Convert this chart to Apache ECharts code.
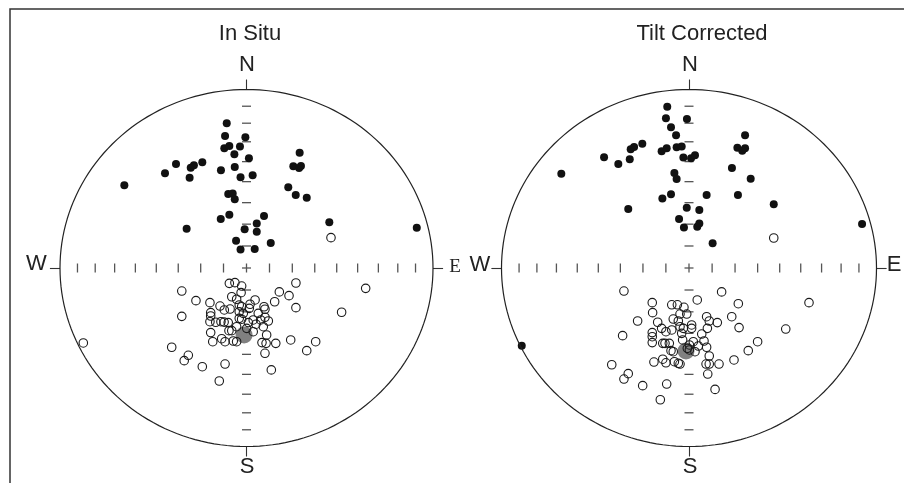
<!DOCTYPE html>
<html>
<head>
<meta charset="utf-8">
<script src="https://cdn.jsdelivr.net/npm/echarts@6/dist/echarts.min.js"></script>
<style>
    html, body { margin: 0; padding: 0; background: #fff; }
    #chart { width: 904px; height: 483px; }
</style>
</head>
<body>
<div id="chart"></div>
<script>
    // panel titles
    var panelTitles = ['In Situ', 'Tilt Corrected'];

    // equal-area tick positions (10 deg steps), in % of net radius
    var netTicks = [-90.63, -81.12, -70.71, -59.59, -48.37, -36.60, -24.56, -12.33, 0,
        12.33, 24.56, 36.60, 48.37, 59.59, 70.71, 81.12, 90.63];

    // In Situ: lower hemisphere (filled), upper hemisphere (open), mean
    var inSituDown = [
        [-10.6, 81.1], [-11.5, 73.9], [-11.9, 67.1], [-9.2, 68.3], [-3.5, 68.1], [-6.5, 63.7],
        [-37.8, 58.3], [-43.7, 53.1], [-29.9, 56.2], [-28.2, 57.5], [-23.7, 59.2], [-30.5, 50.6],
        [-13.7, 54.7], [-6.3, 56.6], [-3.2, 50.8], [-65.5, 46.3], [-9.8, 41.5], [-7.4, 41.8],
        [-6.3, 38.5], [-9.2, 29.9], [-13.8, 27.5], [-32.1, 22.0], [-5.6, 15.3], [-3.2, 10.4],
        [-0.6, 73.2], [1.3, 61.5], [3.3, 51.9], [28.5, 64.6], [25.1, 57.0], [28.2, 56.0],
        [29.2, 57.1], [22.4, 45.2], [26.4, 40.9], [32.3, 39.4], [9.4, 29.1], [5.5, 25.0],
        [-1.0, 21.7], [5.5, 20.3], [13.0, 14.0], [4.4, 10.6], [44.4, 25.6], [91.3, 22.6]
    ];
    var inSituUp = [
        [45.3, 17.0], [-34.7, -12.9], [-27.1, -18.3], [-19.6, -19.4], [-34.7, -27.1], [-87.5, -42.0],
        [-40.1, -44.4], [-31.2, -48.9], [-33.4, -51.9], [-23.7, -55.3], [-11.5, -53.8], [-14.6, -63.3],
        [-9.2, -8.6], [-6.2, -8.2], [-7.9, -16.1], [-5.3, -17.5], [-14.2, -21.3], [-11.9, -23.5],
        [-8.8, -23.0], [-19.2, -25.0], [-19.2, -26.9], [-19.6, -30.1], [-16.5, -30.4], [-13.7, -30.1],
        [-12.0, -30.3], [-9.8, -30.6], [-5.3, -32.9], [-9.4, -35.1], [-7.9, -35.1], [-19.2, -36.2],
        [-13.3, -39.6], [-11.5, -41.3], [-18.1, -41.3], [-7.1, -40.9], [-5.3, -41.3], [-3.9, -20.7],
        [-3.9, -24.5], [-3.9, -28.2], [-2.6, -10.1], [-2.9, -13.8], [26.5, -8.4], [17.6, -13.4],
        [22.8, -15.5], [15.1, -18.9], [4.6, -17.9], [1.9, -20.3], [1.5, -22.6], [9.4, -21.7],
        [9.9, -23.1], [26.5, -22.2], [-2.6, -21.7], [-1.7, -25.4], [6.3, -25.4], [9.9, -27.6],
        [7.6, -29.1], [11.7, -29.7], [3.6, -29.1], [1.0, -30.6], [-2.6, -28.7], [5.1, -31.5],
        [9.0, -32.9], [0.1, -33.8], [3.6, -35.7], [10.8, -37.5], [51.0, -24.8], [63.9, -11.4],
        [23.7, -40.3], [37.1, -41.3], [8.3, -41.8], [10.5, -42.2], [15.7, -42.2], [32.3, -46.3],
        [9.9, -47.8], [13.3, -57.1]
    ];
    var inSituMean = [[-1.3, -37.5]];

    // Tilt Corrected
    var tiltDown = [
        [-11.6, 90.4], [-12.3, 83.9], [-1.1, 83.5], [-9.6, 78.8], [-6.9, 74.3], [-24.9, 69.6],
        [-31.1, 66.5], [-29.3, 67.8], [-14.6, 65.4], [-11.9, 67.1], [-6.6, 67.6], [-3.9, 68.1],
        [-3.0, 61.9], [-45.3, 62.0], [-37.7, 58.3], [-31.6, 60.9], [-68.1, 52.8], [-7.8, 53.2],
        [-6.6, 49.9], [-9.6, 41.3], [-14.2, 39.0], [-1.2, 33.8], [-32.4, 33.1], [-5.3, 27.5],
        [-2.7, 22.7], [1.1, 61.5], [3.2, 63.1], [29.9, 74.3], [25.8, 67.4], [29.9, 67.1],
        [28.4, 65.7], [22.9, 56.0], [32.9, 50.0], [9.4, 40.9], [26.1, 40.9], [45.2, 35.7],
        [5.5, 32.5], [4.4, 23.1], [5.5, 25.0], [12.6, 13.8], [92.3, 24.6], [-89.2, -43.5]
    ];
    var tiltUp = [
        [45.2, 16.8], [-34.7, -12.9], [-19.6, -19.4], [-9.2, -20.6], [-6.2, -20.6], [-2.7, -22.0],
        [-19.4, -25.0], [-4.8, -25.8], [-1.2, -25.8], [-27.4, -29.7], [-16.7, -30.4], [-8.4, -28.6],
        [-5.7, -29.7], [-14.6, -33.8], [-12.3, -35.7], [-9.2, -34.7], [-4.8, -32.9], [-3.0, -33.8],
        [-19.6, -36.2], [-19.6, -38.5], [-19.6, -41.8], [-3.9, -36.6], [-3.4, -40.3], [-35.4, -37.9],
        [-14.0, -42.2], [-12.8, -42.2], [-10.5, -42.2], [-9.6, -46.3], [-8.4, -46.9], [-0.9, -45.0],
        [-41.2, -54.2], [-18.7, -52.7], [-14.0, -51.1], [-12.3, -53.1], [-7.8, -52.5], [-5.7, -53.4],
        [-32.4, -59.2], [-34.7, -62.2], [-24.7, -65.9], [-11.9, -65.0], [-15.3, -73.8],
        [17.4, -13.4], [4.4, -17.9], [26.3, -20.0], [64.0, -19.4], [9.4, -27.3], [10.8, -29.7],
        [15.1, -30.6], [22.8, -27.3], [1.4, -31.9], [1.4, -33.8], [9.8, -33.8], [26.7, -33.4],
        [51.6, -34.2], [6.8, -37.0], [2.3, -41.3], [8.0, -40.9], [36.6, -41.3], [0.2, -43.1],
        [5.0, -43.7], [9.4, -44.4], [0.2, -45.9], [3.2, -46.9], [31.6, -46.3], [10.8, -49.3],
        [24.0, -51.5], [9.1, -53.8], [10.8, -53.8], [16.0, -53.8], [-4.8, -53.8], [10.0, -59.4],
        [13.9, -68.0]
    ];
    var tiltMean = [[-1.6, -46.5]];

    // net outline
    var outline = [];
    for (var a = 0; a <= 360; a += 2) {
        outline.push([100 * Math.cos(a * Math.PI / 180), 100 * Math.sin(a * Math.PI / 180)]);
    }
    // short marks outside the net at N, S, E, W
    var stubs = [
        {coords: [[-105.4, 0], [-100, 0]]},
        {coords: [[100, 0], [105.4, 0]]},
        {coords: [[0, 100], [0, 105.6]]},
        {coords: [[0, -100], [0, -105.6]]}
    ];

    function panelSeries(i, down, up, mean) {
        var base = {xAxisIndex: i, yAxisIndex: i, silent: true, animation: false};
        return [
            Object.assign({type: 'line', data: outline, symbol: 'none', clip: false,
                lineStyle: {color: '#222', width: 1.2}}, base),
            Object.assign({type: 'lines', coordinateSystem: 'cartesian2d', data: stubs,
                lineStyle: {color: '#333', width: 1.1, opacity: 1}}, base),
            Object.assign({type: 'scatter', data: netTicks.map(function (v) { return [v, 0]; }),
                symbol: 'rect', symbolSize: [1.3, 9], itemStyle: {color: '#555', opacity: 1}}, base),
            Object.assign({type: 'scatter', data: netTicks.map(function (v) { return [0, v]; }),
                symbol: 'rect', symbolSize: [9, 1.3], itemStyle: {color: '#555', opacity: 1}}, base),
            Object.assign({type: 'scatter', data: mean, symbolSize: 17,
                itemStyle: {color: '#808080', opacity: 1}}, base),
            Object.assign({type: 'scatter', data: up, symbolSize: 8.5,
                itemStyle: {color: 'rgba(0,0,0,0)', borderColor: '#1a1a1a', borderWidth: 1.1, opacity: 1}}, base),
            Object.assign({type: 'scatter', data: down, symbolSize: 8,
                itemStyle: {color: '#111', opacity: 1}}, base)
        ];
    }

    function label(text, x, y, size, family) {
        return {
            type: 'text', silent: true,
            style: {
                text: text, x: x, y: y, fill: '#222',
                font: size + 'px ' + (family || '"Liberation Sans", Arial'),
                align: 'center', verticalAlign: 'middle',
                textAlign: 'center', textVerticalAlign: 'middle'
            }
        };
    }

    var chart = echarts.init(document.getElementById('chart'));
    var axisBase = {type: 'value', min: -110, max: 110, show: false};
    var option = {
        backgroundColor: '#fff',
        grid: [
            {left: 41.35, top: 71.65, width: 410.3, height: 392.7, outerBoundsMode: 'none'},
            {left: 482.75, top: 71.65, width: 412.5, height: 392.7, outerBoundsMode: 'none'}
        ],
        xAxis: [Object.assign({gridIndex: 0}, axisBase), Object.assign({gridIndex: 1}, axisBase)],
        yAxis: [Object.assign({gridIndex: 0}, axisBase), Object.assign({gridIndex: 1}, axisBase)],
        graphic: [
            {type: 'rect', silent: true, shape: {x: 10, y: 9, width: 1000, height: 1000},
                style: {fill: 'none', stroke: '#333', lineWidth: 1.5}},
            label(panelTitles[0], 250, 33.5, 22),
            label(panelTitles[1], 702, 33.5, 22),
            label('N', 247, 64.5, 22),
            label('S', 247, 467, 22),
            label('W', 36.5, 264, 22),
            label('E', 455, 267.5, 19, '"Liberation Serif", "Times New Roman", serif'),
            label('N', 690, 64.5, 22),
            label('S', 690, 467, 22),
            label('W', 480, 264.5, 22),
            label('E', 894, 265, 22)
        ],
        series: [].concat(
            panelSeries(0, inSituDown, inSituUp, inSituMean),
            panelSeries(1, tiltDown, tiltUp, tiltMean)
        )
    };
    chart.setOption(option);
</script>
</body>
</html>
